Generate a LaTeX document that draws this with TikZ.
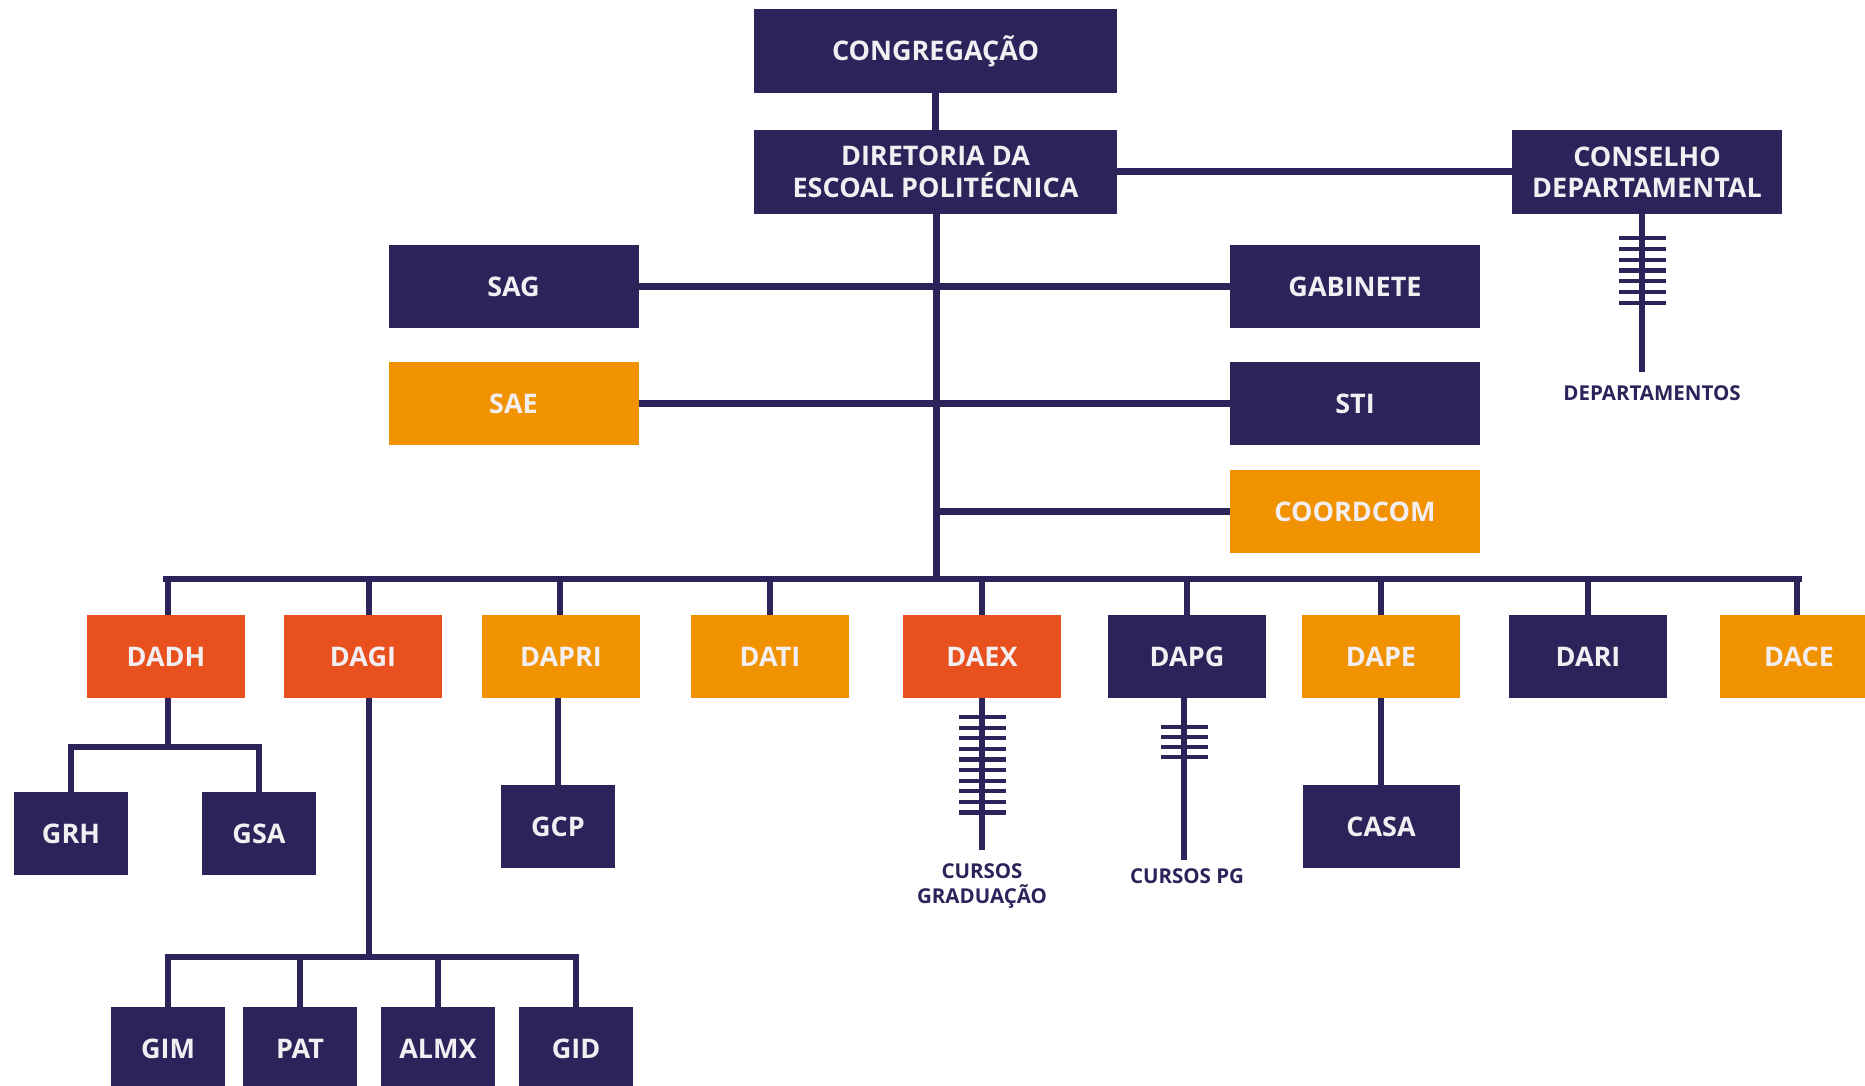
\documentclass[tikz,border=0pt]{standalone}
\usepackage{fontspec}
\setmainfont{Open Sans}
\definecolor{navy}{RGB}{42,36,90}
\definecolor{redor}{RGB}{232,80,30}
\definecolor{orng}{RGB}{241,146,0}
\definecolor{txtw}{RGB}{242,238,242}
\begin{document}
\begin{tikzpicture}[x=1pt,y=-1pt,
  box/.style={fill=navy,text=txtw,inner sep=0pt,font=\bfseries\fontsize{27}{31.5}\selectfont,align=center},
  bN/.style={box,fill=navy},
  bR/.style={box,fill=redor},
  bO/.style={box,fill=orng},
  big/.style={minimum width=363pt,minimum height=84pt},
  mid/.style={minimum width=250pt,minimum height=83pt},
  lvl/.style={minimum width=158pt,minimum height=83pt},
  sml/.style={minimum width=114pt,minimum height=83pt},
  ln/.style={draw=navy,line width=7pt},
  bl/.style={draw=navy,line width=6.5pt},
  rung/.style={draw=navy,line width=4.2pt},
  lab/.style={text=navy,font=\bfseries\fontsize{20.5}{25}\selectfont,align=center,inner sep=0pt}
]
\useasboundingbox (0,0) rectangle (1865,1086);
\clip (0,0) rectangle (1865,1086);

% top
\node[bN,big] (cong) at (935.5,51) {CONGREGAÇÃO};
\node[bN,big] (dir) at (935.5,172) {DIRETORIA DA\\ESCOAL POLITÉCNICA};
\node[bN,minimum width=270pt,minimum height=84pt] (cons) at (1647,172) {CONSELHO\\DEPARTAMENTAL};

\node[bN,mid] (sag) at (513.5,286.5) {SAG};
\node[bN,mid] (gab) at (1355,286.5) {GABINETE};
\node[bO,mid] (sae) at (513.5,403.5) {SAE};
\node[bN,mid] (sti) at (1355,403.5) {STI};
\node[bO,mid] (coord) at (1355,511.5) {COORDCOM};

% level 2
\node[bR,lvl] (dadh) at (166,656.5) {DADH};
\node[bR,lvl] (dagi) at (363,656.5) {DAGI};
\node[bO,lvl] (dapri) at (561,656.5) {DAPRI};
\node[bO,lvl] (dati) at (770,656.5) {DATI};
\node[bR,lvl] (daex) at (982,656.5) {DAEX};
\node[bN,lvl] (dapg) at (1187,656.5) {DAPG};
\node[bO,lvl] (dape) at (1381,656.5) {DAPE};
\node[bN,lvl] (dari) at (1588,656.5) {DARI};
\node[bO,lvl] (dace) at (1799,656.5) {DACE};

% level 3
\node[bN,sml] (grh) at (71,833.5) {GRH};
\node[bN,sml] (gsa) at (259,833.5) {GSA};
\node[bN,sml] (gcp) at (558,826.5) {GCP};
\node[bN,minimum width=157pt,minimum height=83pt] (casa) at (1381,826.5) {CASA};

\node[bN,sml] (gim) at (168,1048.5) {GIM};
\node[bN,sml] (pat) at (300,1048.5) {PAT};
\node[bN,sml] (almx) at (438,1048.5) {ALMX};
\node[bN,sml] (gid) at (576,1048.5) {GID};

% labels
\node[lab] (deps) at (1652,393) {DEPARTAMENTOS};
\node[lab] (cgrad) at (982,886) {CURSOS\\GRADUAÇÃO};
\node[lab] (cpg) at (1187,876) {CURSOS PG};

% coordinates
\coordinate (bus) at (936,579);
\coordinate (cbr) at (936,511.5);
\coordinate (dadhj) at (168,747);
\coordinate (dagij) at (369,957);
\coordinate (consend) at (1642,372);
\coordinate (daexend) at (982,850);
\coordinate (dapgend) at (1184,860);

% connectors
\draw[ln] (cong.south) -- (dir.north);
\draw[ln] (dir.east) -- (cons.west);
\draw[ln] ([xshift=0.5pt]dir.south) -- (bus);
\draw[ln] (sag.east) -- (gab.west);
\draw[ln] (sae.east) -- (sti.west);
\draw[ln] (coord.west) -- (cbr);

% bus
\draw[bl] ([xshift=-3.25pt]dadh.north |- bus) -- ([xshift=3.25pt]dace.north |- bus);
\foreach \n/\x in {dadh/168,dagi/369,dapri/560,dati/770,daex/982,dapg/1187,dape/1381,dari/1588,dace/1797}{
  \draw[bl] (\x,579) -- (\n.north -| \x,0);
}

% DADH
\draw[bl] (dadh.south -| dadhj) -- (dadhj);
\draw[bl] ([xshift=-3.25pt]grh.north |- dadhj) -- ([xshift=3.25pt]gsa.north |- dadhj);
\draw[bl] (grh.north |- dadhj) -- (grh.north);
\draw[bl] (gsa.north |- dadhj) -- (gsa.north);

% DAGI
\draw[bl] (dagi.south -| dagij) -- (dagij);
\draw[bl] ([xshift=-3.25pt]gim.north |- dagij) -- ([xshift=3.25pt]gid.north |- dagij);
\foreach \n in {gim,pat,almx,gid}{
  \draw[bl] (\n.north |- dagij) -- (\n.north);
}

% DAPRI, DAPE
\draw[bl] (dapri.south -| gcp.north) -- (gcp.north);
\draw[bl] (dape.south) -- (casa.north);

% CONSELHO ladder
\draw[bl] (cons.south -| consend) -- (consend);
\foreach \i in {0,...,6}{
  \draw[rung] (1619,238+10.8*\i) -- (1666,238+10.8*\i);
}

% DAEX ladder
\draw[bl] (daex.south) -- (daexend);
\foreach \i in {0,...,9}{
  \draw[rung] (959,717+10.6*\i) -- (1006,717+10.6*\i);
}

% DAPG ladder
\draw[bl] (dapg.south -| dapgend) -- (dapgend);
\foreach \i in {0,...,3}{
  \draw[rung] (1161,727+10*\i) -- (1208,727+10*\i);
}
\end{tikzpicture}
\end{document}
